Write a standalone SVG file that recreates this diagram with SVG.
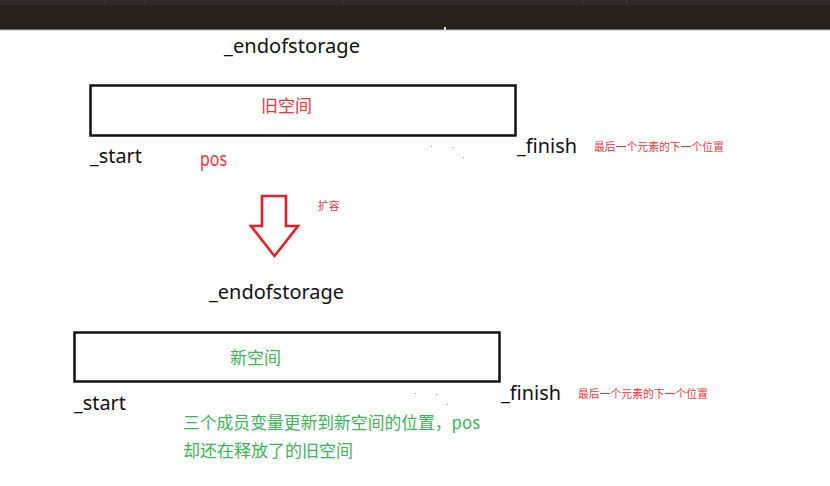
<svg xmlns="http://www.w3.org/2000/svg" width="830" height="486" viewBox="0 0 830 486">
<style>
.lbl{font-family:"Noto Sans","Liberation Sans",sans-serif;font-size:20px;fill:#111}
.cjk{font-family:"Noto Sans CJK SC","Noto Sans",sans-serif}
.red{fill:#f0343c}
.grn{fill:#3cb558}
.box{fill:none;stroke:#111;stroke-width:2.5}
.note{font-size:10.8px}
.speck{fill:#9a9a9a}
</style>
<rect x="0" y="0" width="830" height="30" fill="#27211c"/>
<rect x="0" y="0" width="830" height="5" fill="#2e2b27"/>
<g fill="#45413c">
<rect x="105" y="0" width="1" height="5"/><rect x="145" y="0" width="1" height="5"/><rect x="342" y="0" width="1" height="5"/><rect x="582" y="0" width="1" height="5"/><rect x="626" y="0" width="1" height="5"/>
</g>
<rect x="0" y="29.5" width="830" height="1" fill="#bdbdbd"/>
<rect x="444" y="27" width="2" height="3" fill="#e8e8e8"/>

<g id="old-space">
<text class="lbl" x="224" y="53" textLength="136" lengthAdjust="spacingAndGlyphs">_endofstorage</text>
<rect class="box" x="90.5" y="85.5" width="425" height="50"/>
<text class="cjk red" x="261" y="112" font-size="17">旧空间</text>
<text class="lbl" x="90" y="163" textLength="52" lengthAdjust="spacingAndGlyphs">_start</text>
<text class="lbl red" x="200" y="166" font-size="17" textLength="27" lengthAdjust="spacingAndGlyphs">pos</text>
<text class="lbl" x="517" y="153" textLength="60" lengthAdjust="spacingAndGlyphs">_finish</text>
<text class="cjk red note" x="594" y="151" textLength="130" lengthAdjust="spacingAndGlyphs">最后一个元素的下一个位置</text>
<rect class="speck" x="431" y="146" width="1" height="1"/><rect class="speck" x="452" y="147" width="1.5" height="1"/><rect class="speck" x="463" y="157" width="1" height="1"/>
</g>

<g id="connectors">
<path d="M262,196 H286 V226 H298 L274.5,256 L251,226 H262 Z" fill="none" stroke="#ec1c24" stroke-width="2.6" stroke-linejoin="miter"/>
<text class="cjk red note" x="318" y="210">扩容</text>
</g>

<g id="new-space">
<text class="lbl" x="209" y="299" textLength="135" lengthAdjust="spacingAndGlyphs">_endofstorage</text>
<rect class="box" x="74.5" y="332.5" width="425" height="49"/>
<text class="cjk grn" x="230" y="364" font-size="17">新空间</text>
<text class="lbl" x="74" y="410" textLength="52" lengthAdjust="spacingAndGlyphs">_start</text>
<text class="lbl" x="501" y="400" textLength="60" lengthAdjust="spacingAndGlyphs">_finish</text>
<text class="cjk red note" x="578" y="398" textLength="130" lengthAdjust="spacingAndGlyphs">最后一个元素的下一个位置</text>
<rect class="speck" x="415" y="393" width="1" height="1"/><rect class="speck" x="436" y="394" width="1.5" height="1"/><rect class="speck" x="447" y="404" width="1" height="1"/>
</g>

<g id="note">
<text class="cjk grn" x="183" y="429" font-size="17" textLength="297" lengthAdjust="spacingAndGlyphs">三个成员变量更新到新空间的位置，pos</text>
<text class="cjk grn" x="183" y="457" font-size="17">却还在释放了的旧空间</text>
</g>
</svg>
